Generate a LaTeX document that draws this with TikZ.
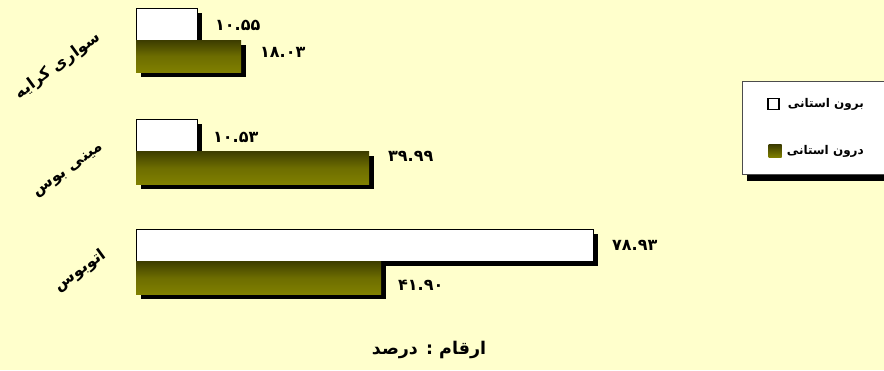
\documentclass[tikz,border=0pt]{standalone}
\usepackage{fontspec}
\usetikzlibrary{shadows}
\TeXXeTstate=1
\newfontfamily\fafont[Script=Arabic]{DejaVu Sans}
\definecolor{bgyellow}{HTML}{FFFFCC}
\definecolor{olivetop}{HTML}{3C3C00}
\definecolor{olivebot}{HTML}{808000}
\tikzset{
  bar/.style={rectangle, anchor=north west, inner sep=0pt, outer sep=0pt},
  whitebar/.style={bar, fill=white, draw=black, line width=1pt,
    drop shadow={shadow xshift=5pt, shadow yshift=-5pt, fill=black, opacity=1}},
  olivebar/.style={bar, top color=olivetop, bottom color=olivebot, middle color=olivebot!85!black,
    drop shadow={shadow xshift=5pt, shadow yshift=-5pt, fill=black, opacity=1}},
  val/.style={font=\fafont\bfseries\fontsize{16}{18}\selectfont, anchor=west, inner sep=0pt},
  cat/.style={font=\fafont\bfseries\fontsize{16}{18}\selectfont, rotate=36, inner sep=0pt},
  legtext/.style={font=\fafont\bfseries\fontsize{12}{14}\selectfont, anchor=east, inner sep=0pt},
}
\begin{document}
\begin{tikzpicture}[x=1pt,y=-1pt]
\fill[bgyellow] (0,0) rectangle (884,370);
\useasboundingbox (0,0) rectangle (884,370);
% group 1
\node[whitebar, minimum width=61pt, minimum height=32pt] (b1) at (136,8) {};
\node[olivebar, minimum width=105pt, minimum height=32pt] (b2) at (136,40) {};
% group 2
\node[whitebar, minimum width=61pt, minimum height=32pt] (b3) at (136,119) {};
\node[olivebar, minimum width=233pt, minimum height=33pt] (b4) at (136,151) {};
% group 3
\node[whitebar, minimum width=457pt, minimum height=32pt] (b5) at (136,229) {};
\node[olivebar, minimum width=245pt, minimum height=33pt] (b6) at (136,261) {};
% values
\node[val] (v1) at ([xshift=18pt,yshift=-1pt]b1.east) {۱۰.۵۵};
\node[val] (v2) at ([xshift=19pt,yshift=4pt]b2.east) {۱۸.۰۳};
\node[val] (v3) at ([xshift=16pt,yshift=-2pt]b3.east) {۱۰.۵۳};
\node[val] (v4) at ([xshift=19pt,yshift=11pt]b4.east) {۳۹.۹۹};
\node[val] (v5) at ([xshift=19pt,yshift=0pt]b5.east) {۷۸.۹۳};
\node[val] (v6) at ([xshift=17pt,yshift=-7.5pt]b6.east) {۴۱.۹۰};
% categories
\node[cat] (c1) at (58,66) {\beginR سواری کرایه\endR};
\node[cat] (c2) at (69,171) {\beginR مینی بوس\endR};
\node[cat] (c3) at (80,271) {\beginR اتوبوس\endR};
% legend
\node[rectangle, anchor=north west, inner sep=0pt, minimum width=146pt, minimum height=93pt,
  fill=white, draw=black!70, line width=0.8pt,
  drop shadow={shadow xshift=5pt, shadow yshift=-7pt, fill=black, opacity=1}] (leg) at (742,81) {};
\node[rectangle, draw=black, line width=1.4pt, fill=white, minimum size=11pt, inner sep=0pt] (k1) at (773.5,104) {};
\node[rectangle, top color=olivetop, bottom color=olivebot, minimum size=13pt, inner sep=0pt] (k2) at (775,151) {};
\node[legtext] (l1) at (864,104) {\beginR برون استانی\endR};
\node[legtext] (l2) at (864,151) {\beginR درون استانی\endR};
% title
\node[font=\fafont\bfseries\fontsize{17.5}{20}\selectfont, inner sep=0pt] (t) at (429,350) {\beginR ارقام : درصد\endR};
\end{tikzpicture}
\end{document}
